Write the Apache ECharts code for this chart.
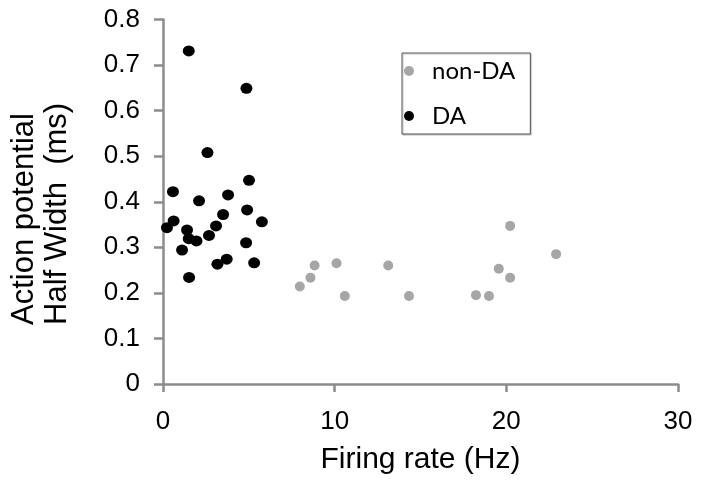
<!DOCTYPE html>
<html>
<head>
<meta charset="utf-8">
<script src="https://cdn.jsdelivr.net/npm/echarts@6/dist/echarts.min.js"></script>
<style>html,body{margin:0;padding:0;background:#fff}#c{width:702px;height:500px}</style>
</head>
<body>
<div id="c"></div>
<script>
// Data
const daFiring = [1.50, 4.86, 2.59, 5.01, 0.58, 3.79, 2.10, 3.50, 4.90, 0.62, 5.76, 0.23, 3.09, 1.40, 1.50, 1.95, 2.68, 1.11, 4.84, 3.17, 3.71, 5.31, 1.52];
const daHalfWidth = [0.731, 0.649, 0.508, 0.447, 0.422, 0.415, 0.402, 0.372, 0.382, 0.358, 0.356, 0.343, 0.347, 0.338, 0.319, 0.314, 0.326, 0.294, 0.310, 0.263, 0.274, 0.266, 0.234];
const nonDaFiring = [7.97, 8.59, 8.83, 10.11, 10.59, 13.12, 14.33, 18.23, 18.99, 19.56, 20.22, 20.22, 22.90];
const nonDaHalfWidth = [0.214, 0.233, 0.260, 0.265, 0.193, 0.260, 0.193, 0.195, 0.193, 0.253, 0.233, 0.347, 0.285];
const xTicks = [0, 10, 20, 30];
const yTicks = [0, 0.1, 0.2, 0.3, 0.4, 0.5, 0.6, 0.7, 0.8];
const seriesNames = ['non-DA', 'DA'];
const xTitle = 'Firing rate (Hz)';
const yTitle = 'Action potential\nHalf Width  (ms)';

const zip = (xs, ys) => xs.map((x, i) => [x, ys[i]]);
const axisColor = '#8c8c8c';
const chart = echarts.init(document.getElementById('c'), null, {renderer: 'canvas'});
chart.setOption({
  animation: false,
  backgroundColor: '#fff',
  grid: {left: 163, right: 24, top: 19.5, bottom: 116, containLabel: false},
  xAxis: {
    type: 'value',
    min: xTicks[0], max: xTicks[xTicks.length - 1], interval: xTicks[1] - xTicks[0],
    splitLine: {show: false},
    axisLine: {show: true, onZero: false, lineStyle: {color: axisColor, width: 2.5}},
    axisTick: {show: true, length: 8, lineStyle: {color: axisColor, width: 2.5}},
    axisLabel: {margin: 25, color: '#000', fontSize: 26, fontFamily: 'Liberation Sans'},
    name: xTitle, nameLocation: 'middle', nameGap: 61,
    nameTextStyle: {color: '#000', fontSize: 30, fontFamily: 'Liberation Sans'}
  },
  yAxis: {
    type: 'value',
    min: yTicks[0], max: yTicks[yTicks.length - 1], interval: 0.1,
    splitLine: {show: false},
    axisLine: {show: true, onZero: false, lineStyle: {color: axisColor, width: 2.5}},
    axisTick: {show: true, length: 9, lineStyle: {color: axisColor, width: 2.5}},
    axisLabel: {margin: 23, color: '#000', fontSize: 26, fontFamily: 'Liberation Sans',
      formatter: v => String(Math.round(v * 10) / 10)}
  },
  graphic: [{
    type: 'text', rotation: Math.PI / 2, x: 41, y: 325,
    style: {text: yTitle, fill: '#000', font: '31px "Liberation Sans"', lineHeight: 33,
      textAlign: 'left', textVerticalAlign: 'middle'}
  }],
  legend: {
    orient: 'vertical', left: 402, top: 53,
    padding: [5, 15, 5, 2],
    itemWidth: 30, itemHeight: 10, itemGap: 19,
    borderColor: '#555', borderWidth: 1,
    shadowColor: 'rgba(0,0,0,0.25)', shadowOffsetX: 1, shadowOffsetY: 1, shadowBlur: 1,
    backgroundColor: '#fff',
    textStyle: {color: '#000', fontSize: 24, lineHeight: 26, fontFamily: 'Lato', padding: [0, 0, 0, 3]},
    data: [{name: seriesNames[0], icon: 'circle'}, {name: seriesNames[1], icon: 'circle'}]
  },
  series: [
    {name: seriesNames[0], type: 'scatter', data: zip(nonDaFiring, nonDaHalfWidth),
      symbol: 'circle', symbolSize: 10, itemStyle: {color: '#a6a6a6', opacity: 1}},
    {name: seriesNames[1], type: 'scatter', data: zip(daFiring, daHalfWidth),
      symbol: 'circle', symbolSize: [12, 11], itemStyle: {color: '#000', opacity: 1}}
  ]
});
</script>
</body>
</html>
